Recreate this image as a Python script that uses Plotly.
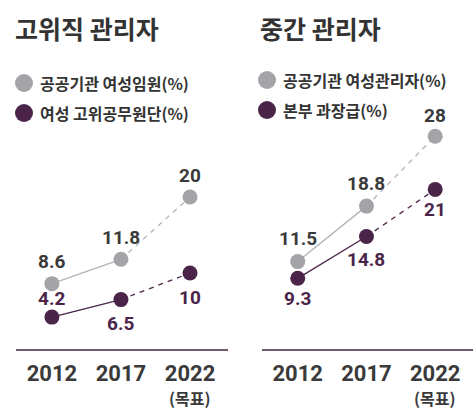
import plotly.graph_objects as go

# Survey years shared by both panels
years = ["2012", "2017", "2022"]
target_note = "(목표)"

# Senior managers (left panel)
senior_public = [8.6, 11.8, 20]      # 공공기관 여성임원(%)
senior_civil = [4.2, 6.5, 10]        # 여성 고위공무원단(%)

# Middle managers (right panel)
middle_public = [11.5, 18.8, 28]     # 공공기관 여성관리자(%)
middle_hq = [9.3, 14.8, 21]          # 본부 과장급(%)

titles = ["고위직 관리자", "중간 관리자"]
legend_names = [["공공기관 여성임원(%)", "여성 고위공무원단(%)"],
                ["공공기관 여성관리자(%)", "본부 과장급(%)"]]

GRAY = "#a3a3a8"
GRAY_LINE = "#b3b3b6"
PURPLE = "#4b2549"
DARK = "#3a3a3a"
FONT = "Roboto, 'Noto Sans CJK KR', sans-serif"
KFONT = "'Noto Sans CJK KR', Roboto, sans-serif"

W, H = 475, 409

fig = go.Figure()


def add_series(xa, ya, values, color, line_color):
    # solid segment for actual data, dashed toward the target year
    fig.add_trace(go.Scatter(x=years[:2], y=values[:2], mode="lines",
                             line=dict(color=line_color, width=1.3),
                             xaxis=xa, yaxis=ya, showlegend=False, hoverinfo="skip"))
    fig.add_trace(go.Scatter(x=years[1:], y=values[1:], mode="lines",
                             line=dict(color=line_color, width=1.3, dash="5px,5px"),
                             xaxis=xa, yaxis=ya, showlegend=False, hoverinfo="skip"))
    fig.add_trace(go.Scatter(x=years, y=values, mode="markers",
                             marker=dict(color=color, size=15),
                             xaxis=xa, yaxis=ya, showlegend=False))


add_series("x", "y", senior_public, GRAY, GRAY_LINE)
add_series("x", "y", senior_civil, PURPLE, PURPLE)
add_series("x2", "y2", middle_public, GRAY, GRAY_LINE)
add_series("x2", "y2", middle_hq, PURPLE, PURPLE)

annotations = []


def value_labels(xref, yref, values, color, shifts):
    # category positions are given by index on a category axis
    for idx, (v, s) in enumerate(zip(values, shifts)):
        annotations.append(dict(x=idx, y=v, xref=xref, yref=yref, text=f"{v:g}",
                                showarrow=False, yshift=s,
                                font=dict(family=FONT, size=19, color=color, weight="bold")))


value_labels("x", "y", senior_public, DARK, [22, 22, 22])
value_labels("x", "y", senior_civil, PURPLE, [19, -24, -24])
value_labels("x2", "y2", middle_public, DARK, [23, 23, 21])
value_labels("x2", "y2", middle_hq, PURPLE, [-20, -23, -20])

# "(목표)" note under the target year
for xr in ["x", "x2"]:
    annotations.append(dict(x=2, y=1 - 398 / H, xref=xr, yref="paper", text=target_note,
                            showarrow=False, yanchor="middle", borderpad=0,
                            font=dict(family=KFONT, size=16, color=DARK, weight="bold")))

# Panel titles and legend rows
panel_left = [13, 258]
legend_circle_x = [24, 267]
legend_rows_y = [[83, 113], [80, 110]]
shapes = []
for i in range(2):
    annotations.append(dict(x=panel_left[i] / W, y=1 - 28 / H, xref="paper", yref="paper",
                            xanchor="left", yanchor="middle", text=titles[i], showarrow=False,
                            font=dict(family=KFONT, size=25, color="#333333", weight="bold")))
    for name, col, yy in zip(legend_names[i], [GRAY, PURPLE], legend_rows_y[i]):
        cx = legend_circle_x[i]
        r = 9
        shapes.append(dict(type="circle", xref="paper", yref="paper",
                           x0=(cx - r) / W, x1=(cx + r) / W,
                           y0=1 - (yy + r) / H, y1=1 - (yy - r) / H,
                           fillcolor=col, line=dict(width=0)))
        annotations.append(dict(x=(cx + 14) / W, y=1 - yy / H, xref="paper", yref="paper",
                                xanchor="left", yanchor="middle", text=name, showarrow=False,
                                font=dict(family=KFONT, size=16, color="#333333", weight="bold")))

xaxis_common = dict(type="category", range=[-0.52, 2.55], showgrid=False, zeroline=False,
                    showline=True, linecolor="#6e5a6c", linewidth=1.5, ticks="",
                    tickvals=years, ticktext=years, ticklabelstandoff=4,
                    tickfont=dict(family=FONT, size=22, color=DARK, weight="bold"),
                    fixedrange=True)
yaxis_common = dict(range=[0, 30], domain=[(H - 349) / H, (H - 121) / H],
                    showgrid=False, zeroline=False, showline=False, showticklabels=False,
                    ticks="", fixedrange=True)

fig.update_layout(
    width=W, height=H,
    margin=dict(l=0, r=0, t=0, b=0),
    paper_bgcolor="white", plot_bgcolor="white",
    xaxis=dict(domain=[16 / W, 228 / W], **xaxis_common),
    xaxis2=dict(domain=[262 / W, 473 / W], anchor="y2", **xaxis_common),
    yaxis=dict(anchor="x", **yaxis_common),
    yaxis2=dict(anchor="x2", **yaxis_common),
    annotations=annotations,
    shapes=shapes,
    showlegend=False,
)

fig.write_html("out.html")
